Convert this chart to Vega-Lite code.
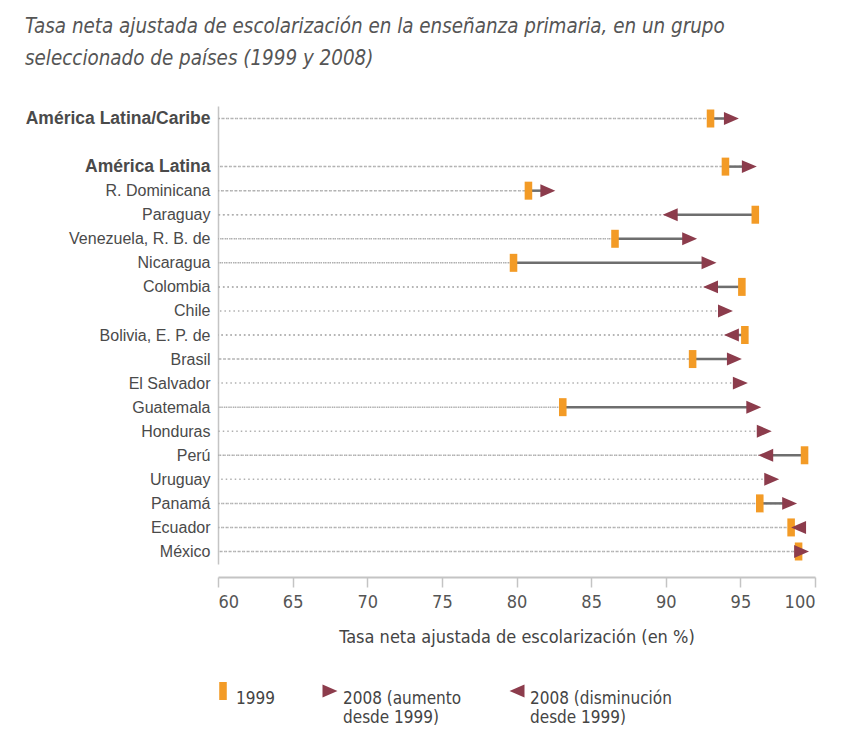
{
  "$schema": "https://vega.github.io/schema/vega-lite/v6.json",
  "autosize": "none",
  "width": 597,
  "height": 458,
  "padding": {"left": 218, "top": 106, "right": 28, "bottom": 172},
  "background": "white",
  "title": {
    "text": ["Tasa neta ajustada de escolarización en la enseñanza primaria, en un grupo", "seleccionado de países (1999 y 2008)"],
    "anchor": "start",
    "frame": "group",
    "dx": -193,
    "offset": 37,
    "font": "Liberation Sans Narrow, DejaVu Sans Condensed, sans-serif",
    "fontSize": 20.4,
    "fontStyle": "italic",
    "fontWeight": "normal",
    "color": "#555555",
    "lineHeight": 32
  },
  "datasets": {
    "puntos": [
      {"pais": "América Latina/Caribe", "serie": "1999", "valor": 93.0},
      {"pais": "América Latina", "serie": "1999", "valor": 94.0},
      {"pais": "R. Dominicana", "serie": "1999", "valor": 80.8},
      {"pais": "Paraguay", "serie": "1999", "valor": 96.0},
      {"pais": "Venezuela, R. B. de", "serie": "1999", "valor": 86.6},
      {"pais": "Nicaragua", "serie": "1999", "valor": 79.8},
      {"pais": "Colombia", "serie": "1999", "valor": 95.1},
      {"pais": "Bolivia, E. P. de", "serie": "1999", "valor": 95.3},
      {"pais": "Brasil", "serie": "1999", "valor": 91.8},
      {"pais": "Guatemala", "serie": "1999", "valor": 83.1},
      {"pais": "Perú", "serie": "1999", "valor": 99.3},
      {"pais": "Panamá", "serie": "1999", "valor": 96.3},
      {"pais": "Ecuador", "serie": "1999", "valor": 98.4},
      {"pais": "México", "serie": "1999", "valor": 98.9},
      {"pais": "América Latina/Caribe", "serie": "2008 (aumento|desde 1999)", "valor": 94.4},
      {"pais": "América Latina", "serie": "2008 (aumento|desde 1999)", "valor": 95.6},
      {"pais": "R. Dominicana", "serie": "2008 (aumento|desde 1999)", "valor": 82.1},
      {"pais": "Paraguay", "serie": "2008 (disminución|desde 1999)", "valor": 90.3},
      {"pais": "Venezuela, R. B. de", "serie": "2008 (aumento|desde 1999)", "valor": 91.6},
      {"pais": "Nicaragua", "serie": "2008 (aumento|desde 1999)", "valor": 92.9},
      {"pais": "Colombia", "serie": "2008 (disminución|desde 1999)", "valor": 93.0},
      {"pais": "Chile", "serie": "2008 (aumento|desde 1999)", "valor": 94.0},
      {"pais": "Bolivia, E. P. de", "serie": "2008 (disminución|desde 1999)", "valor": 94.4},
      {"pais": "Brasil", "serie": "2008 (aumento|desde 1999)", "valor": 94.6},
      {"pais": "El Salvador", "serie": "2008 (aumento|desde 1999)", "valor": 95.0},
      {"pais": "Guatemala", "serie": "2008 (aumento|desde 1999)", "valor": 95.9},
      {"pais": "Honduras", "serie": "2008 (aumento|desde 1999)", "valor": 96.6},
      {"pais": "Perú", "serie": "2008 (disminución|desde 1999)", "valor": 96.7},
      {"pais": "Uruguay", "serie": "2008 (aumento|desde 1999)", "valor": 97.1},
      {"pais": "Panamá", "serie": "2008 (aumento|desde 1999)", "valor": 98.3},
      {"pais": "Ecuador", "serie": "2008 (disminución|desde 1999)", "valor": 98.9},
      {"pais": "México", "serie": "2008 (aumento|desde 1999)", "valor": 99.1}
    ]
  },
  "data": {"name": "puntos"},
  "encoding": {
    "x": {
      "field": "valor",
      "type": "quantitative",
      "scale": {"domain": [60, 100], "nice": false, "zero": false},
      "axis": {
        "values": [60, 65, 70, 75, 80, 85, 90, 95, 100],
        "title": "Tasa neta ajustada de escolarización (en %)",
        "offset": 13,
        "grid": false,
        "domainColor": "#c4c4c4",
        "domainWidth": 2,
        "tickColor": "#c4c4c4",
        "tickWidth": 1.5,
        "tickSize": 10,
        "labelPadding": 6,
        "labelFont": "Liberation Sans Narrow, DejaVu Sans Condensed, sans-serif",
        "labelFontSize": 18,
        "labelColor": "#555555",
        "titleFont": "Liberation Sans Narrow, DejaVu Sans Condensed, sans-serif",
        "titleFontSize": 18,
        "titleFontWeight": "normal",
        "titleColor": "#444444",
        "titlePadding": 17
      }
    },
    "y": {
      "field": "pais",
      "type": "nominal",
      "scale": {
        "type": "point",
        "padding": 0.52,
        "domain": ["América Latina/Caribe", " ", "América Latina", "R. Dominicana", "Paraguay", "Venezuela, R. B. de", "Nicaragua", "Colombia", "Chile", "Bolivia, E. P. de", "Brasil", "El Salvador", "Guatemala", "Honduras", "Perú", "Uruguay", "Panamá", "Ecuador", "México"]
      },
      "axis": {
        "title": null,
        "ticks": false,
        "grid": false,
        "domain": true,
        "domainColor": "#c4c4c4",
        "domainWidth": 1.5,
        "labelPadding": 8,
        "labelLimit": 260,
        "labelFont": "Liberation Sans, Arial, sans-serif",
        "labelFontSize": {"condition": {"test": "datum.value === 'América Latina/Caribe' || datum.value === 'América Latina'", "value": 17.5}, "value": 16},
        "labelColor": "#4a4a4a",
        "labelFontWeight": {"condition": {"test": "datum.value === 'América Latina/Caribe' || datum.value === 'América Latina'", "value": "bold"}, "value": "normal"}
      }
    }
  },
  "layer": [
    {
      "mark": {"type": "rule", "color": "#b0b0b0", "strokeWidth": 1.5, "strokeDash": [1.5, 3]},
      "encoding": {
        "x2": {"datum": 60}
      }
    },
    {
      "mark": {"type": "line", "color": "#6e6e6e", "strokeWidth": 2.5},
      "encoding": {
        "detail": {"field": "pais", "type": "nominal"}
      }
    },
    {
      "mark": {"type": "point", "filled": true, "opacity": 1, "size": 324, "strokeWidth": 0},
      "encoding": {
        "color": {
          "field": "serie",
          "type": "nominal",
          "scale": {
            "domain": ["1999", "2008 (aumento|desde 1999)", "2008 (disminución|desde 1999)"],
            "range": ["#f39b26", "#8c3c4c", "#8c3c4c"]
          },
          "legend": {
            "title": null,
            "orient": "none",
            "legendX": -4,
            "legendY": 576,
            "direction": "horizontal",
            "columns": 3,
            "columnPadding": 46,
            "padding": 0,
            "symbolSize": 324,
            "symbolStrokeWidth": 0,
            "labelExpr": "datum.label == '1999' ? ['1999', ' '] : split(datum.label, '|')",
            "labelBaseline": "top",
            "labelFont": "Liberation Sans Narrow, DejaVu Sans Condensed, sans-serif",
            "labelFontSize": 17,
            "labelColor": "#444444",
            "labelOffset": 4,
            "labelLimit": 300
          }
        },
        "shape": {
          "field": "serie",
          "type": "nominal",
          "scale": {
            "domain": ["1999", "2008 (aumento|desde 1999)", "2008 (disminución|desde 1999)"],
            "range": ["M-0.42,-1L0.42,-1L0.42,1L-0.42,1Z", "M-0.83,-0.72L0.83,0L-0.83,0.72Z", "M0.83,-0.72L-0.83,0L0.83,0.72Z"]
          }
        }
      }
    }
  ],
  "config": {
    "view": {"stroke": null}
  }
}
